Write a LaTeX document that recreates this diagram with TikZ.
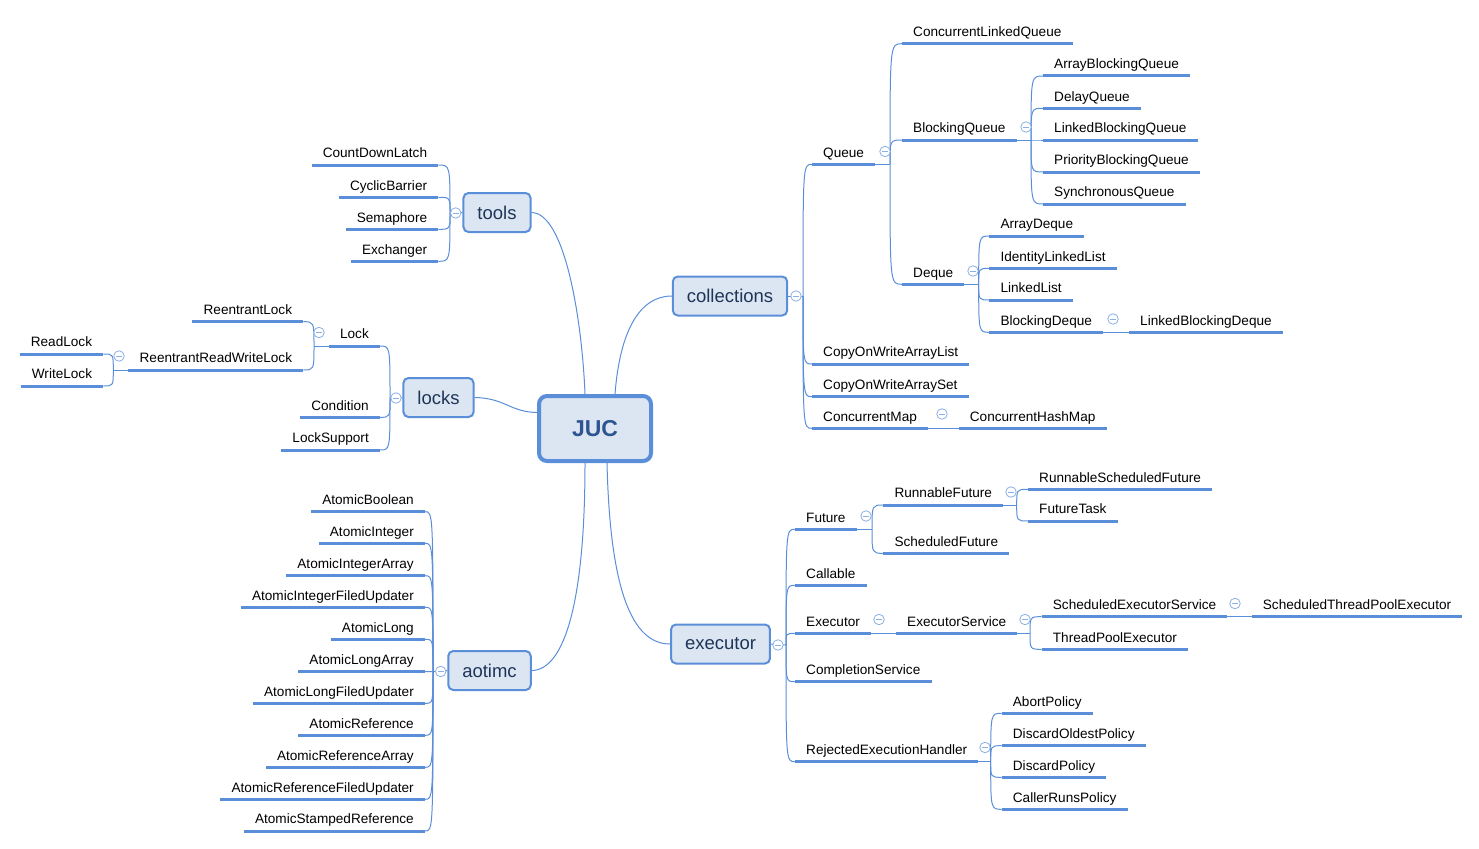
\documentclass[tikz,border=0pt]{standalone}
\usepackage{fontspec}
\setmainfont{Liberation Sans}
\usepackage{tikz}

\definecolor{mapline}{HTML}{5A8ED8}
\definecolor{topicfill}{HTML}{DCE6F3}
\definecolor{topictext}{HTML}{1E3557}
\definecolor{roottext}{HTML}{2E5590}

\begin{document}
\begin{tikzpicture}[x=1pt,y=-1pt]
\useasboundingbox (0,0) rectangle (1479,848);
\tikzstyle{root} = [draw=mapline, fill=topicfill, rounded corners=8pt, line width=4pt, minimum width=112pt, minimum height=65pt, font=\fontsize{23}{27}\selectfont\bfseries, text=roottext]
\tikzstyle{topic} = [draw=mapline, fill=topicfill, rounded corners=5pt, line width=2pt, inner xsep=14pt, minimum height=39pt, font=\fontsize{18.5}{22}\selectfont, text=topictext]
\tikzstyle{uline} = [draw=mapline, line width=3pt]
\tikzstyle{link} = [draw=mapline, line width=1pt]
\tikzstyle{leaf} = [inner xsep=11pt, inner ysep=4pt, text height=10pt, text depth=3pt, font=\fontsize{13.6}{16}\selectfont, append after command={\pgfextra{\draw[uline] (\tikzlastnode.south west) -- (\tikzlastnode.south east);}}]
\tikzstyle{rleaf} = [leaf, anchor=south west]
\tikzstyle{lleaf} = [leaf, anchor=south east]
\tikzstyle{fold} = [draw=mapline!70, fill=white, circle, minimum size=10.5pt, inner sep=0pt, line width=0.8pt, path picture={\draw[mapline!70, line width=0.8pt] ([xshift=-3pt]path picture bounding box.center) -- ([xshift=3pt]path picture bounding box.center);}]

%Root and main topics
\node at (595,428.5) [root] (juc) {JUC};
\node at (497,212.5) [topic] (tools) {tools};
\node at (438.5,397.5) [topic] (locks) {locks};
\node at (489.5,670.5) [topic] (aotimc) {aotimc};
\node at (730,296) [topic] (collections) {collections};
\node at (720.5,644) [topic] (executor) {executor};

%collections
\node at (812,164.3) [rleaf] (queue) {Queue};
\node at (812,364) [rleaf] (cowal) {CopyOnWriteArrayList};
\node at (812,396.7) [rleaf] (cowas) {CopyOnWriteArraySet};
\node at (812,428.3) [rleaf] (cmap) {ConcurrentMap};
\node at (958.7,428.3) [rleaf] (chm) {ConcurrentHashMap};
\node at (902,43.7) [rleaf] (clq) {ConcurrentLinkedQueue};
\node at (902,140) [rleaf] (bq) {BlockingQueue};
\node at (902,284.3) [rleaf] (deque) {Deque};
\node at (1043,76) [rleaf] (abq) {ArrayBlockingQueue};
\node at (1043,108.3) [rleaf] (dlq) {DelayQueue};
\node at (1043,140) [rleaf] (lbq) {LinkedBlockingQueue};
\node at (1043,172) [rleaf] (pbq) {PriorityBlockingQueue};
\node at (1043,204) [rleaf] (syq) {SynchronousQueue};
\node at (989.3,236) [rleaf] (ad) {ArrayDeque};
\node at (989.3,268.3) [rleaf] (ill) {IdentityLinkedList};
\node at (989.3,300) [rleaf] (ll) {LinkedList};
\node at (989.3,332.3) [rleaf] (bdq) {BlockingDeque};
\node at (1129,332.3) [rleaf] (lbdq) {LinkedBlockingDeque};

%executor
\node at (795,529.3) [rleaf] (fut) {Future};
\node at (795,585.3) [rleaf] (call) {Callable};
\node at (795,633.3) [rleaf] (exe) {Executor};
\node at (795,681.7) [rleaf] (cs) {CompletionService};
\node at (795,761.7) [rleaf] (reh) {RejectedExecutionHandler};
\node at (883.3,505) [rleaf] (rf) {RunnableFuture};
\node at (883.3,553.3) [rleaf] (sf) {ScheduledFuture};
\node at (1028,489.3) [rleaf] (rsf) {RunnableScheduledFuture};
\node at (1028,521) [rleaf] (ft) {FutureTask};
\node at (896,633.3) [rleaf] (es) {ExecutorService};
\node at (1041.7,616.7) [rleaf] (ses) {ScheduledExecutorService};
\node at (1041.7,649.3) [rleaf] (tpe) {ThreadPoolExecutor};
\node at (1251.7,616.7) [rleaf] (stpe) {ScheduledThreadPoolExecutor};
\node at (1001.7,713.3) [rleaf] (abort) {AbortPolicy};
\node at (1001.7,745.7) [rleaf] (dop) {DiscardOldestPolicy};
\node at (1001.7,777.3) [rleaf] (dp) {DiscardPolicy};
\node at (1001.7,809.3) [rleaf] (crp) {CallerRunsPolicy};

%tools
\node at (438.3,165) [lleaf] (cdl) {CountDownLatch};
\node at (438.3,197.3) [lleaf] (cb) {CyclicBarrier};
\node at (438.3,229.3) [lleaf] (sem) {Semaphore};
\node at (438.3,261.3) [lleaf] (exch) {Exchanger};

%locks
\node at (380,346) [lleaf] (lock) {Lock};
\node at (380,417.3) [lleaf] (cond) {Condition};
\node at (380,450) [lleaf] (ls) {LockSupport};
\node at (303.3,321.7) [lleaf] (rl) {ReentrantLock};
\node at (303.3,370) [lleaf] (rrwl) {ReentrantReadWriteLock};
\node at (103.3,354) [lleaf] (readl) {ReadLock};
\node at (103.3,386) [lleaf] (writel) {WriteLock};

%aotimc
\node at (425,511.7) [lleaf] (ab) {AtomicBoolean};
\node at (425,543.3) [lleaf] (ai) {AtomicInteger};
\node at (425,575.7) [lleaf] (aia) {AtomicIntegerArray};
\node at (425,607.3) [lleaf] (aifu) {AtomicIntegerFiledUpdater};
\node at (425,639.3) [lleaf] (al) {AtomicLong};
\node at (425,671.7) [lleaf] (ala) {AtomicLongArray};
\node at (425,703.3) [lleaf] (alfu) {AtomicLongFiledUpdater};
\node at (425,735.3) [lleaf] (ar) {AtomicReference};
\node at (425,767.3) [lleaf] (ara) {AtomicReferenceArray};
\node at (425,799.3) [lleaf] (arfu) {AtomicReferenceFiledUpdater};
\node at (425,831) [lleaf] (asr) {AtomicStampedReference};

%Branch points
\coordinate (colsp) at (803,296);
\coordinate (queuesp) at (890,164.3);
\coordinate (bqsp) at (1031,140);
\coordinate (dqsp) at (978.7,284.3);
\coordinate (exsp) at (786,645);
\coordinate (futsp) at (872,529.3);
\coordinate (rfsp) at (1016.7,505);
\coordinate (essp) at (1030,633.3);
\coordinate (rehsp) at (990.7,761.7);
\coordinate (toolsp) at (450,213);
\coordinate (lockssp) at (390,398);
\coordinate (locksp) at (314,346);
\coordinate (rrwlsp) at (113.3,370);
\coordinate (aosp) at (433,671.5);

\begin{scope}[link]
%root to topics
\draw (tools.east) .. controls (565,213) and (582,320) .. ([xshift=-10pt]juc.north);
\draw (collections.west) .. controls (640,296) and (620,330) .. ([xshift=20pt]juc.north);
\draw (locks.east) .. controls (505,398) and (510,412) .. ([yshift=16pt]juc.west);
\draw (aotimc.east) .. controls (565,670) and (585,600) .. ([xshift=-10pt]juc.south);
\draw (executor.west) .. controls (632,644) and (610,590) .. ([xshift=12pt]juc.south);

%right side
\draw (collections.east) -- (colsp);
\foreach \c in {queue,cowal,cowas,cmap}
  \draw (colsp) .. controls (colsp |- \c.south west) .. (\c.south west);
\draw (queue.south east) -- (queuesp);
\foreach \c in {clq,bq,deque}
  \draw (queuesp) .. controls (queuesp |- \c.south west) .. (\c.south west);
\draw (bq.south east) -- (bqsp);
\foreach \c in {abq,dlq,lbq,pbq,syq}
  \draw (bqsp) .. controls (bqsp |- \c.south west) .. (\c.south west);
\draw (deque.south east) -- (dqsp);
\foreach \c in {ad,ill,ll,bdq}
  \draw (dqsp) .. controls (dqsp |- \c.south west) .. (\c.south west);
\draw (bdq.south east) -- (lbdq.south west);
\draw (cmap.south east) -- (chm.south west);

\draw (executor.east) -- (exsp);
\foreach \c in {fut,call,exe,cs,reh}
  \draw (exsp) .. controls (exsp |- \c.south west) .. (\c.south west);
\draw (fut.south east) -- (futsp);
\foreach \c in {rf,sf}
  \draw (futsp) .. controls (futsp |- \c.south west) .. (\c.south west);
\draw (rf.south east) -- (rfsp);
\foreach \c in {rsf,ft}
  \draw (rfsp) .. controls (rfsp |- \c.south west) .. (\c.south west);
\draw (exe.south east) -- (es.south west);
\draw (es.south east) -- (essp);
\foreach \c in {ses,tpe}
  \draw (essp) .. controls (essp |- \c.south west) .. (\c.south west);
\draw (ses.south east) -- (stpe.south west);
\draw (reh.south east) -- (rehsp);
\foreach \c in {abort,dop,dp,crp}
  \draw (rehsp) .. controls (rehsp |- \c.south west) .. (\c.south west);

%left side
\draw (tools.west) -- (toolsp);
\foreach \c in {cdl,cb,sem,exch}
  \draw (toolsp) .. controls (toolsp |- \c.south east) .. (\c.south east);
\draw (locks.west) -- (lockssp);
\foreach \c in {lock,cond,ls}
  \draw (lockssp) .. controls (lockssp |- \c.south east) .. (\c.south east);
\draw (lock.south west) -- (locksp);
\foreach \c in {rl,rrwl}
  \draw (locksp) .. controls (locksp |- \c.south east) .. (\c.south east);
\draw (rrwl.south west) -- (rrwlsp);
\foreach \c in {readl,writel}
  \draw (rrwlsp) .. controls (rrwlsp |- \c.south east) .. (\c.south east);
\draw (aotimc.west) -- (aosp);
\foreach \c in {ab,ai,aia,aifu,al,ala,alfu,ar,ara,arfu,asr}
  \draw (aosp) .. controls (aosp |- \c.south east) .. (\c.south east);
\end{scope}

%Collapse markers
\node at (796,296) [fold] (fcol) {};
\node at (885,151.5) [fold] (fqueue) {};
\node at (1026,127) [fold] (fbq) {};
\node at (973,271) [fold] (fdeque) {};
\node at (1113,319) [fold] (fbdq) {};
\node at (942,414) [fold] (fcmap) {};
\node at (778,645) [fold] (fexec) {};
\node at (866,516) [fold] (ffut) {};
\node at (1011,492) [fold] (frf) {};
\node at (879,619.5) [fold] (fexe) {};
\node at (1025,619.5) [fold] (fes) {};
\node at (1235,603.5) [fold] (fses) {};
\node at (985,747.5) [fold] (freh) {};
\node at (455.7,213) [fold] (ftools) {};
\node at (396,398) [fold] (flocks) {};
\node at (319,332.5) [fold] (flock) {};
\node at (119,356) [fold] (frrwl) {};
\node at (440.7,671.5) [fold] (faotimc) {};

\end{tikzpicture}
\end{document}
